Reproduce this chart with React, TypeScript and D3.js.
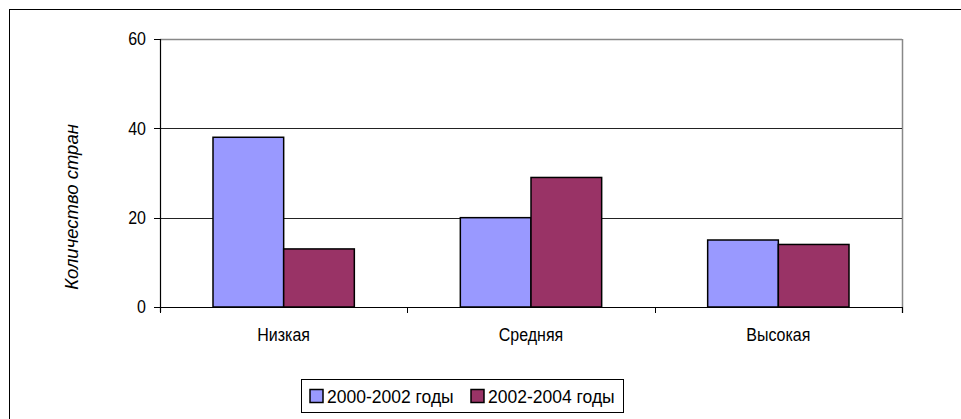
import React from "react";
import * as d3 from "d3";

const categories = ["Низкая", "Средняя", "Высокая"];
const series1Name = "2000-2002 годы";
const series2Name = "2002-2004 годы";
const series1 = [38, 20, 15];
const series2 = [13, 29, 14];
const yTicks = [0, 20, 40, 60];
const yTitle = "Количество стран";

export default function App() {
  const W = 961, H = 419;
  const left = 160, right = 902, top = 39, bottom = 307;
  const y = d3.scaleLinear().domain([0, 60]).range([bottom, top]);
  const x0 = d3.scaleBand().domain(categories).range([left, right]).paddingInner(0).paddingOuter(0);
  const bw = x0.bandwidth() / 3.5;
  const x1 = d3.scaleBand().domain(["a", "b"]).range([0, bw * 2]);
  const colors = ["#9999FF", "#993366"];
  const font = "'Liberation Sans', Arial, sans-serif";
  const data = [series1, series2];
  return (
    <svg width={W} height={H} style={{ position: "absolute", left: 0, top: 0, background: "#fff" }} fontFamily={font}>
      <rect x={9.5} y={9.5} width={W + 10} height={H + 10} fill="#fff" stroke="#000" strokeWidth={1} />
      {/* plot frame */}
      <line x1={left} x2={right} y1={top + 0.5} y2={top + 0.5} stroke="#888" strokeWidth={1.5} />
      <line x1={right + 0.5} x2={right + 0.5} y1={top} y2={bottom + 6} stroke="#888" strokeWidth={1.5} />
      {yTicks.filter(t => t !== 0 && t !== 60).map(t => (
        <line key={t} x1={left} x2={right} y1={Math.round(y(t)) + 0.5} y2={Math.round(y(t)) + 0.5} stroke="#222" strokeWidth={1} />
      ))}
      {data.map((s, si) =>
        s.map((v, ci) => {
          const xx = (x0(categories[ci]) as number) + bw * 0.75 + (x1(si === 0 ? "a" : "b") as number);
          return (
            <rect key={si + "-" + ci} x={xx} y={y(v)} width={bw} height={bottom - y(v)} fill={colors[si]} stroke="#000" strokeWidth={1.5} />
          );
        })
      )}
      {/* axes */}
      <line x1={left + 0.5} x2={left + 0.5} y1={top} y2={bottom + 5} stroke="#000" strokeWidth={1.2} />
      <line x1={left} x2={right} y1={bottom + 0.5} y2={bottom + 0.5} stroke="#000" strokeWidth={1.2} />
      {yTicks.map(t => (
        <g key={t}>
          <line x1={left - 6} x2={left} y1={Math.round(y(t)) + 0.5} y2={Math.round(y(t)) + 0.5} stroke="#000" strokeWidth={1} />
          <text transform={`translate(${left - 14},${y(t) + 6.3}) scale(1,1.1)`} textAnchor="end" fontSize={16}>{t}</text>
        </g>
      ))}
      {[...categories.map(c => x0(c) as number), right].map((xv, i) => (
        <line key={i} x1={Math.round(xv) + 0.5} x2={Math.round(xv) + 0.5} y1={bottom} y2={bottom + 6} stroke="#000" strokeWidth={1} />
      ))}
      {categories.map(c => (
        <text key={c} transform={`translate(${(x0(c) as number) + x0.bandwidth() / 2},341) scale(1,1.12)`} textAnchor="middle" fontSize={16}>{c}</text>
      ))}
      <text transform={`translate(78,207) rotate(-90)`} textAnchor="middle" fontSize={18.5} fontStyle="italic">{yTitle}</text>
      {/* legend */}
      <rect x={301.5} y={379.5} width={322} height={33} fill="#fff" stroke="#000" strokeWidth={1} />
      {[series1Name, series2Name].map((n, i) => {
        const lx = i === 0 ? 310 : 471;
        return (
          <g key={n}>
            <rect x={lx} y={389.5} width={13} height={13} fill={colors[i]} stroke="#000" strokeWidth={1.5} />
            <text x={lx + 17} y={403} fontSize={17.5}>{n}</text>
          </g>
        );
      })}
    </svg>
  );
}
